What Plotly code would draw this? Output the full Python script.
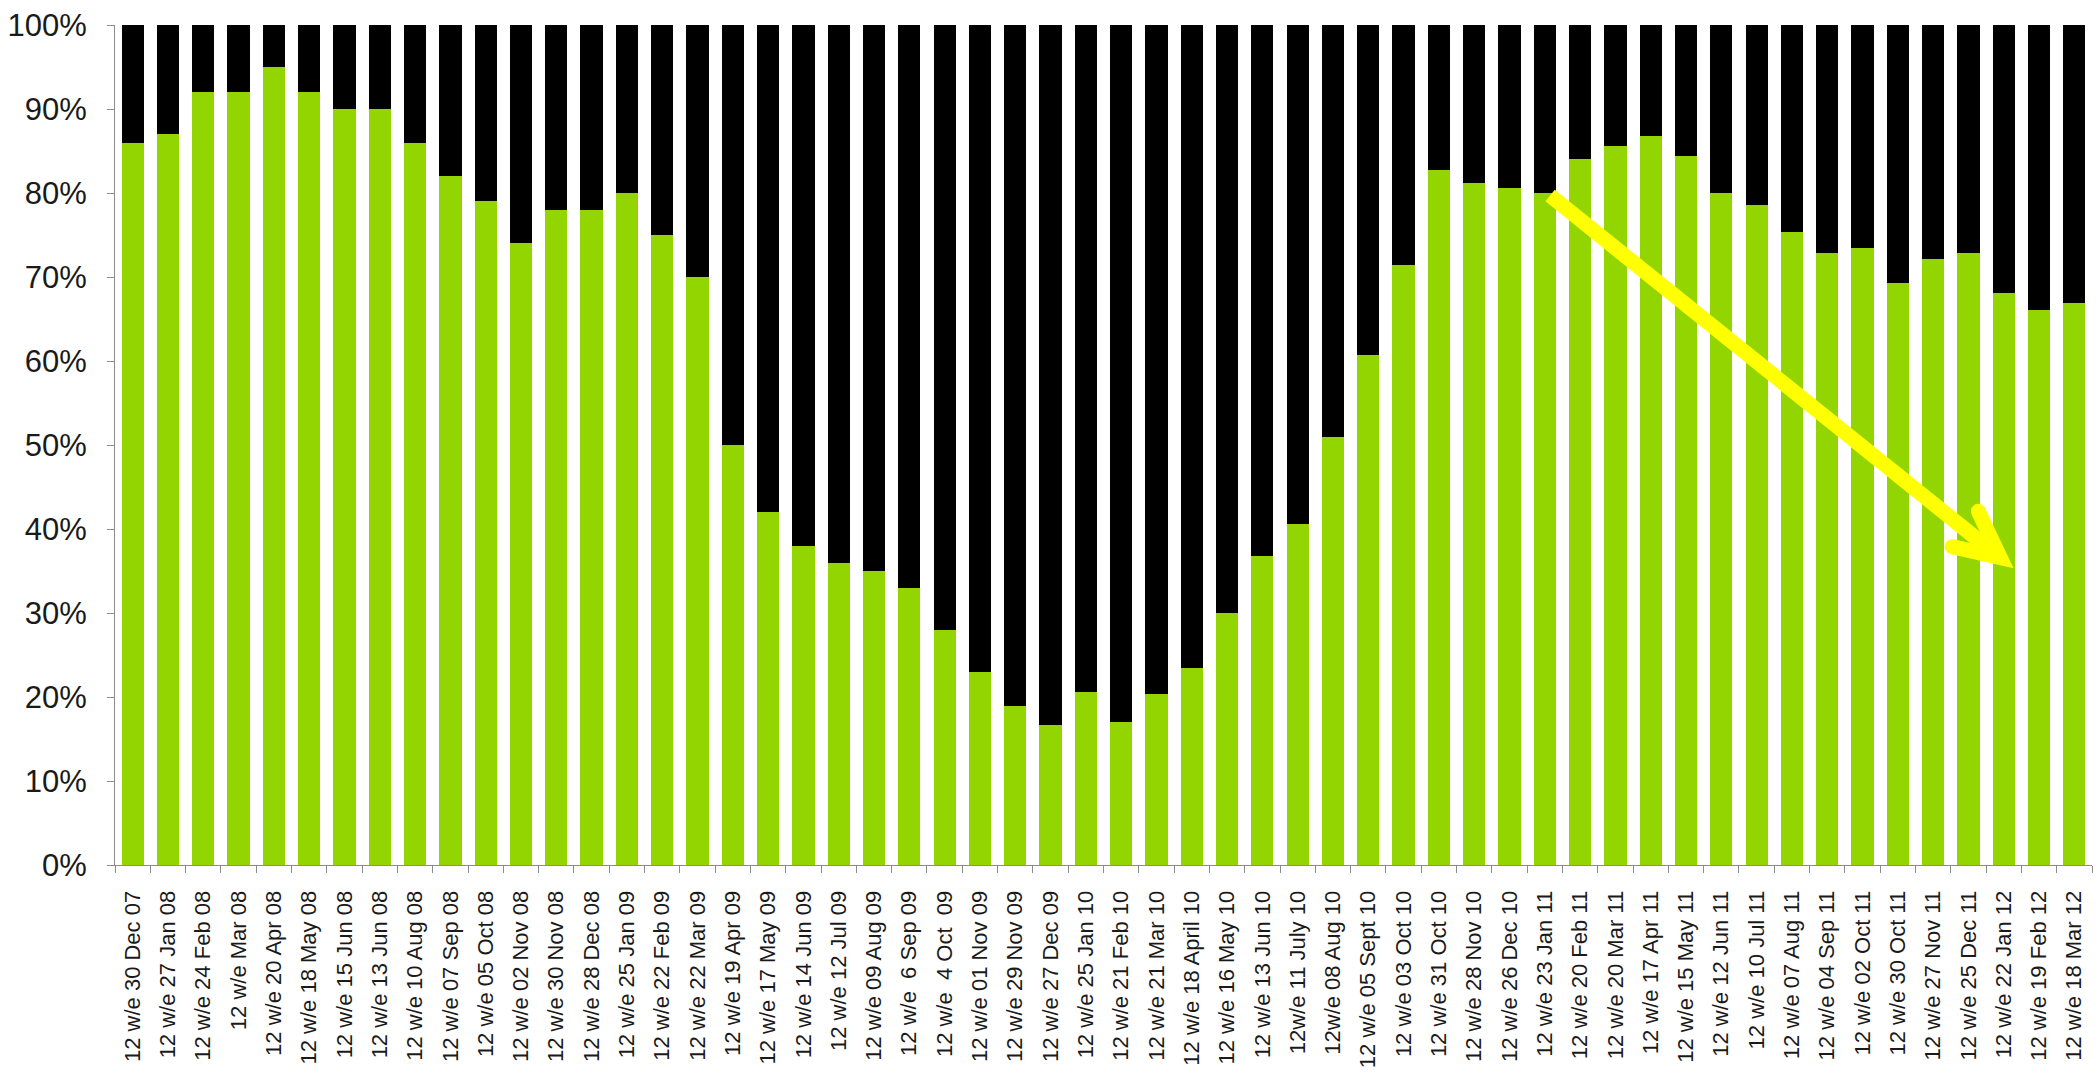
import plotly.graph_objects as go

# 12-week rolling periods (w/e = week ending)
weeks = [
    "12 w/e 30 Dec 07", "12 w/e 27 Jan 08", "12 w/e 24 Feb 08", "12 w/e Mar 08",
    "12 w/e 20 Apr 08", "12 w/e 18 May 08", "12 w/e 15 Jun 08", "12 w/e 13 Jun 08",
    "12 w/e 10 Aug 08", "12 w/e 07 Sep 08", "12 w/e 05 Oct 08", "12 w/e 02 Nov 08",
    "12 w/e 30 Nov 08", "12 w/e 28 Dec 08", "12 w/e 25 Jan 09", "12 w/e 22 Feb 09",
    "12 w/e 22 Mar 09", "12 w/e 19 Apr 09", "12 w/e 17 May 09", "12 w/e 14 Jun 09",
    "12 w/e 12 Jul 09", "12 w/e 09 Aug 09", "12 w/e  6 Sep 09", "12 w/e  4 Oct  09",
    "12 w/e 01 Nov 09", "12 w/e 29 Nov 09", "12 w/e 27 Dec 09", "12 w/e 25 Jan 10",
    "12 w/e 21 Feb 10", "12 w/e 21 Mar 10", "12 w/e 18 April 10", "12 w/e 16 May 10",
    "12 w/e 13 Jun 10", "12w/e 11 July 10", "12w/e 08 Aug 10", "12 w/e 05 Sept 10",
    "12 w/e 03 Oct 10", "12 w/e 31 Oct 10", "12 w/e 28 Nov 10", "12 w/e 26 Dec 10",
    "12 w/e 23 Jan 11", "12 w/e 20 Feb 11", "12 w/e 20 Mar 11", "12 w/e 17 Apr 11",
    "12 w/e 15 May 11", "12 w/e 12 Jun 11", "12 w/e 10 Jul 11", "12 w/e 07 Aug 11",
    "12 w/e 04 Sep 11", "12 w/e 02 Oct 11", "12 w/e 30 Oct 11", "12 w/e 27 Nov 11",
    "12 w/e 25 Dec 11", "12 w/e 22 Jan 12", "12 w/e 19 Feb 12", "12 w/e 18 Mar 12",
]

# Share of the green segment (%) per period; the black segment is the remainder
green_share = [
    86, 87, 92, 92, 95, 92, 90, 90, 86, 82, 79, 74, 78, 78, 80, 75,
    70, 50, 42, 38, 36, 35, 33, 28, 23, 18.9, 16.7, 20.6, 17.0, 20.3,
    23.5, 30.0, 36.8, 40.6, 51.0, 60.7, 71.4, 82.7, 81.2, 80.6, 80.0, 84.0,
    85.6, 86.8, 84.4, 80.0, 78.6, 75.4, 72.9, 73.4, 69.3, 72.1, 72.8, 68.1,
    66.1, 66.9,
]
black_share = [round(100 - v, 1) for v in green_share]

y_ticks = list(range(0, 101, 10))
y_tick_text = [f"{v}%" for v in y_ticks]

# Trend arrow (category position, percent)
arrow_start = (40.15, 79.7)
arrow_vertex = (52.90, 36.6)
arrow_barb_a = (52.28, 42.1)
arrow_barb_b = (51.54, 37.9)

GREEN = "#93D500"
AXIS_GREY = "#8c8c8c"
YELLOW = "#FFFF00"

positions = list(range(len(weeks)))

fig = go.Figure()
fig.add_bar(x=positions, y=green_share, width=0.63,
            marker=dict(color=GREEN, line=dict(width=0)), name="green")
fig.add_bar(x=positions, y=black_share, width=0.63,
            marker=dict(color="#000000", line=dict(width=0)), name="black")

fig.update_layout(
    barmode="stack",
    width=2100, height=1076,
    margin=dict(l=114, r=8, t=19, b=210, pad=0),
    plot_bgcolor="white", paper_bgcolor="white",
    showlegend=False,
)

fig.update_xaxes(
    range=[-0.5, len(weeks) - 0.5],
    tickmode="array", tickvals=positions, ticktext=weeks,
    tickangle=-90, ticks="",
    tickfont=dict(family="Liberation Sans", size=22, color="#1a1a1a"),
    ticklabelstandoff=16,
    showline=True, linecolor=AXIS_GREY, linewidth=1,
    showgrid=False, zeroline=False,
    minor=dict(tickmode="linear", tick0=-0.5, dtick=1, ticks="outside",
               ticklen=7, tickcolor=AXIS_GREY, tickwidth=1, showgrid=False),
)

fig.update_yaxes(
    range=[0, 100],
    tickmode="array", tickvals=y_ticks, ticktext=y_tick_text,
    ticks="outside", ticklen=7, tickcolor=AXIS_GREY, tickwidth=1,
    tickfont=dict(family="Liberation Sans", size=31, color="#1a1a1a"),
    ticklabelstandoff=14,
    showline=True, linecolor=AXIS_GREY, linewidth=1,
    showgrid=False, zeroline=False,
)

# Arrow shaft and head
sx, sy = arrow_start
vx, vy = arrow_vertex
ax_, ay_ = arrow_barb_a
bx, by = arrow_barb_b
fig.add_shape(type="path", xref="x", yref="y",
              path=f"M {sx},{sy} L {vx},{vy}",
              line=dict(color=YELLOW, width=15))
fig.add_shape(type="path", xref="x", yref="y",
              path=f"M {ax_},{ay_} L {vx},{vy} L {bx},{by}",
              line=dict(color=YELLOW, width=15))
# Rounded ends of the arrow head
for px, py in (arrow_barb_a, arrow_barb_b):
    fig.add_shape(type="circle", xref="x", yref="y",
                  xsizemode="pixel", ysizemode="pixel",
                  xanchor=px, yanchor=py, x0=-7.5, x1=7.5, y0=-7.5, y1=7.5,
                  fillcolor=YELLOW, line=dict(width=0))

fig.write_html("out.html")
